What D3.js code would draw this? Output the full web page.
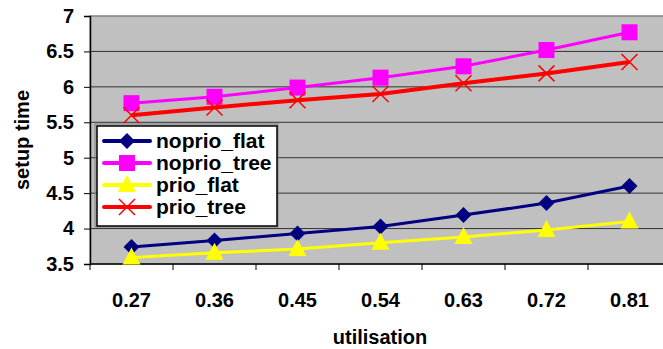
<!DOCTYPE html>
<html>
<head>
<meta charset="utf-8">
<script src="https://cdn.jsdelivr.net/npm/d3@7"></script>
<style>
  body { margin: 0; background: #fff; }
  text { font-family: "Liberation Sans", Arial, sans-serif; font-weight: bold; }
</style>
</head>
<body>
<script>
var width = 663;
var height = 349;

// data
var categories = ["0.27", "0.36", "0.45", "0.54", "0.63", "0.72", "0.81"];
var noprioFlat = [3.74, 3.83, 3.93, 4.03, 4.19, 4.36, 4.60];
var noprioTree = [5.77, 5.86, 5.99, 6.13, 6.29, 6.52, 6.77];
var prioFlat = [3.59, 3.66, 3.71, 3.80, 3.88, 3.98, 4.10];
var prioTree = [5.60, 5.71, 5.81, 5.90, 6.05, 6.19, 6.35];
var yTicks = [3.5, 4, 4.5, 5, 5.5, 6, 6.5, 7];

var series = [
    { name: "noprio_flat", values: noprioFlat, color: "#000080", marker: "diamond", lw: 3 },
    { name: "noprio_tree", values: noprioTree, color: "#FF00FF", marker: "square", lw: 3 },
    { name: "prio_flat", values: prioFlat, color: "#FFFF00", marker: "triangle", lw: 3 },
    { name: "prio_tree", values: prioTree, color: "#FF0000", marker: "cross", lw: 4 }
];

var plotLeft = 90, plotRight = 671, plotTop = 16, plotBottom = 264;

var svg = d3.select("body").append("svg")
    .attr("width", width)
    .attr("height", height);

var xScale = d3.scaleBand()
    .domain(categories)
    .range([plotLeft, plotRight]);

var yScale = d3.scaleLinear()
    .domain([3.5, 7])
    .range([plotBottom, plotTop]);

// plot area
svg.append("rect")
    .attr("x", plotLeft)
    .attr("y", plotTop)
    .attr("width", plotRight - plotLeft)
    .attr("height", plotBottom - plotTop)
    .attr("fill", "#C0C0C0")
    .attr("stroke", "#808080")
    .attr("stroke-width", 1);

svg.append("g")
    .selectAll("line")
    .data(yTicks.slice(1))
    .enter().append("line")
    .attr("x1", plotLeft)
    .attr("x2", plotRight)
    .attr("y1", function(d) { return yScale(d); })
    .attr("y2", function(d) { return yScale(d); })
    .attr("stroke", function(d) { return d == 7 ? "#808080" : "#333"; })
    .attr("stroke-width", 1);

// axes
var yAxis = svg.append("g")
    .attr("transform", "translate(" + plotLeft + ",0)")
    .call(d3.axisLeft(yScale).tickValues(yTicks).tickSize(6).tickPadding(10).tickFormat(d3.format("")));
yAxis.selectAll("text").attr("font-size", 20).attr("fill", "#000").attr("font-family", null);
yAxis.select(".domain").attr("stroke", "#000").attr("stroke-width", 1.5);

var xAxis = svg.append("g")
    .attr("transform", "translate(0," + plotBottom + ")");
xAxis.append("line")
    .attr("x1", plotLeft).attr("x2", plotRight)
    .attr("stroke", "#000").attr("stroke-width", 1.5);
xAxis.selectAll(".tk")
    .data(categories)
    .enter().append("line")
    .attr("class", "tk")
    .attr("x1", function(d) { return xScale(d); })
    .attr("x2", function(d) { return xScale(d); })
    .attr("y1", 0).attr("y2", 6)
    .attr("stroke", "#000");
xAxis.selectAll("text")
    .data(categories)
    .enter().append("text")
    .attr("x", function(d) { return xScale(d) + xScale.bandwidth() / 2; })
    .attr("y", 43)
    .attr("text-anchor", "middle")
    .attr("font-size", 20)
    .text(function(d) { return d; });

svg.append("text")
    .attr("x", 380)
    .attr("y", 344)
    .attr("text-anchor", "middle")
    .attr("font-size", 20)
    .text("utilisation");

svg.append("text")
    .attr("transform", "translate(29,140) rotate(-90)")
    .attr("text-anchor", "middle")
    .attr("font-size", 20)
    .text("setup time");

function drawMarker(g, type, color) {
    if (type == "diamond") {
        g.append("path").attr("d", "M0,-8L8,0L0,8L-8,0Z").attr("fill", color);
    } else if (type == "square") {
        g.append("rect").attr("x", -8).attr("y", -8).attr("width", 16).attr("height", 16).attr("fill", color);
    } else if (type == "triangle") {
        g.append("path").attr("d", "M0,-10L9,7L-9,7Z").attr("fill", color);
    } else {
        g.append("path").attr("d", "M-8,-8L8,8M-8,8L8,-8").attr("stroke", color).attr("stroke-width", 1.5);
    }
}

var line = d3.line()
    .x(function(d, i) { return xScale(categories[i]) + xScale.bandwidth() / 2; })
    .y(function(d) { return yScale(d); });

series.forEach(function(s) {
    svg.append("path")
        .datum(s.values)
        .attr("d", line)
        .attr("fill", "none")
        .attr("stroke", s.color)
        .attr("stroke-width", s.lw);
    s.values.forEach(function(v, i) {
        var g = svg.append("g")
            .attr("transform", "translate(" + (xScale(categories[i]) + xScale.bandwidth() / 2) + "," + yScale(v) + ")");
        drawMarker(g, s.marker, s.color);
    });
});

// legend
svg.append("rect")
    .attr("x", 95).attr("y", 124)
    .attr("width", 183).attr("height", 103)
    .attr("fill", "none")
    .attr("stroke", "#808080")
    .attr("stroke-width", 1);
svg.append("rect")
    .attr("x", 97).attr("y", 126)
    .attr("width", 180).attr("height", 100)
    .attr("fill", "#fff")
    .attr("stroke", "#000")
    .attr("stroke-width", 1.5);

var legend = svg.selectAll(".legend")
    .data(series)
    .enter().append("g")
    .attr("class", "legend")
    .attr("transform", function(d, i) { return "translate(0," + (141 + i * 22) + ")"; });

legend.append("line")
    .attr("x1", 104).attr("x2", 150)
    .attr("stroke", function(d) { return d.color; })
    .attr("stroke-width", 4)
    .attr("stroke-linecap", "round");

legend.each(function(d) {
    var g = d3.select(this).append("g").attr("transform", "translate(127,0)");
    drawMarker(g, d.marker, d.color);
});

legend.append("text")
    .attr("x", 156)
    .attr("y", 7)
    .attr("font-size", 21)
    .text(function(d) { return d.name; });
</script>
</body>
</html>
